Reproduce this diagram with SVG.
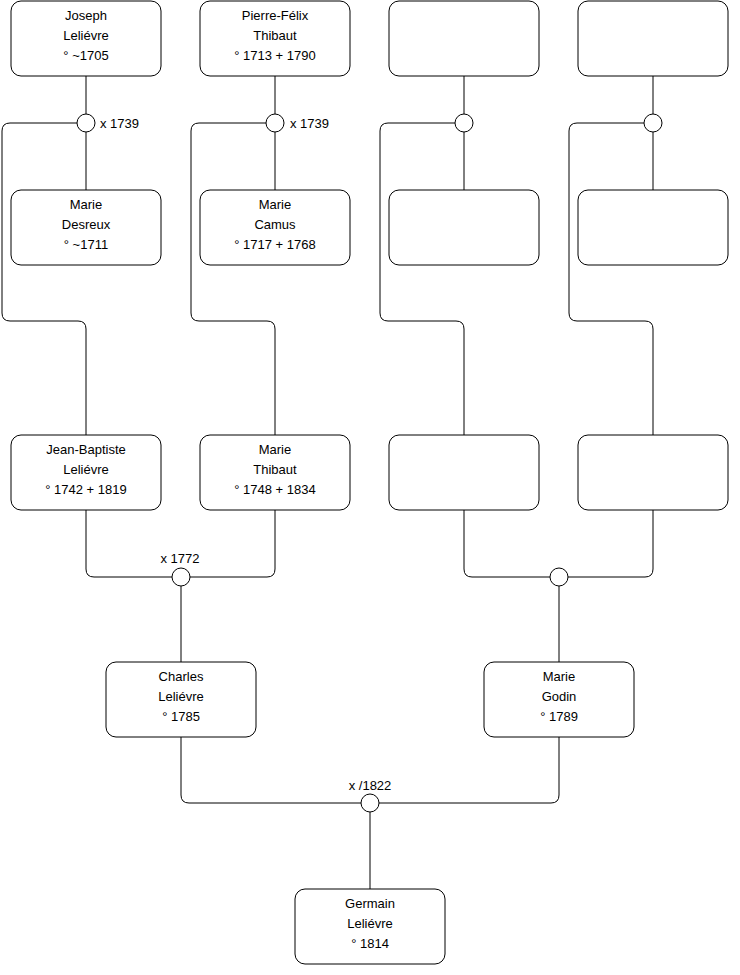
<svg xmlns="http://www.w3.org/2000/svg" width="740" height="975" viewBox="0 0 740 975">
<style>
.box{fill:#fff;stroke:#000;stroke-width:1}
.c{fill:#fff;stroke:#000;stroke-width:1}
.ln{fill:none;stroke:#000;stroke-width:1}
text{font-family:"Liberation Sans",Arial,sans-serif;font-size:13px;fill:#000}
.m{text-anchor:middle}
</style>
<rect width="740" height="975" fill="#fff"/>
<g id="connectors">
<path class="ln" d="M86,76V114M86,132V190M77,123H10Q2,123 2,131V313Q2,321 10,321H78Q86,321 86,329V435"/>
<path class="ln" d="M275,76V114M275,132V190M266,123H199Q191,123 191,131V313Q191,321 199,321H267Q275,321 275,329V435"/>
<path class="ln" d="M464,76V114M464,132V190M455,123H388Q380,123 380,131V313Q380,321 388,321H456Q464,321 464,329V435"/>
<path class="ln" d="M653,76V114M653,132V190M644,123H577Q569,123 569,131V313Q569,321 577,321H645Q653,321 653,329V435"/>
<path class="ln" d="M86,510V569Q86,577 94,577H172M275,510V569Q275,577 267,577H190M181,586V662"/>
<path class="ln" d="M464,510V569Q464,577 472,577H550M653,510V569Q653,577 645,577H568M559,586V662"/>
<path class="ln" d="M181,737V795Q181,803 189,803H361M559,737V795Q559,803 551,803H379M370,812V889"/>
<circle class="c" cx="86" cy="123" r="9"/>
<circle class="c" cx="275" cy="123" r="9"/>
<circle class="c" cx="464" cy="123" r="9"/>
<circle class="c" cx="653" cy="123" r="9"/>
<circle class="c" cx="181" cy="577" r="9"/>
<circle class="c" cx="559" cy="577" r="9"/>
<circle class="c" cx="370" cy="803" r="9"/>
<text x="100" y="128">x 1739</text>
<text x="290" y="128">x 1739</text>
<text class="m" x="180" y="563">x 1772</text>
<text class="m" x="370" y="790">x /1822</text>
</g>
<g id="joseph"><rect class="box" x="11" y="1" width="150" height="75" rx="10"/>
<text class="m" x="86" y="20">Joseph</text><text class="m" x="86" y="40">Leliévre</text><text class="m" x="86" y="60">° ~1705</text></g>
<g id="pierre"><rect class="box" x="200" y="1" width="150" height="75" rx="10"/>
<text class="m" x="275" y="20">Pierre-Félix</text><text class="m" x="275" y="40">Thibaut</text><text class="m" x="275" y="60">° 1713 + 1790</text></g>
<g id="p3"><rect class="box" x="389" y="1" width="150" height="75" rx="10"/></g>
<g id="p4"><rect class="box" x="578" y="1" width="150" height="75" rx="10"/></g>
<g id="desreux"><rect class="box" x="11" y="190" width="150" height="75" rx="10"/>
<text class="m" x="86" y="209">Marie</text><text class="m" x="86" y="229">Desreux</text><text class="m" x="86" y="249">° ~1711</text></g>
<g id="camus"><rect class="box" x="200" y="190" width="150" height="75" rx="10"/>
<text class="m" x="275" y="209">Marie</text><text class="m" x="275" y="229">Camus</text><text class="m" x="275" y="249">° 1717 + 1768</text></g>
<g id="m3"><rect class="box" x="389" y="190" width="150" height="75" rx="10"/></g>
<g id="m4"><rect class="box" x="578" y="190" width="150" height="75" rx="10"/></g>
<g id="jeanbaptiste"><rect class="box" x="11" y="435" width="150" height="75" rx="10"/>
<text class="m" x="86" y="454">Jean-Baptiste</text><text class="m" x="86" y="474">Leliévre</text><text class="m" x="86" y="494">° 1742 + 1819</text></g>
<g id="mariethibaut"><rect class="box" x="200" y="435" width="150" height="75" rx="10"/>
<text class="m" x="275" y="454">Marie</text><text class="m" x="275" y="474">Thibaut</text><text class="m" x="275" y="494">° 1748 + 1834</text></g>
<g id="c3"><rect class="box" x="389" y="435" width="150" height="75" rx="10"/></g>
<g id="c4"><rect class="box" x="578" y="435" width="150" height="75" rx="10"/></g>
<g id="charles"><rect class="box" x="106" y="662" width="150" height="75" rx="10"/>
<text class="m" x="181" y="681">Charles</text><text class="m" x="181" y="701">Leliévre</text><text class="m" x="181" y="721">° 1785</text></g>
<g id="godin"><rect class="box" x="484" y="662" width="150" height="75" rx="10"/>
<text class="m" x="559" y="681">Marie</text><text class="m" x="559" y="701">Godin</text><text class="m" x="559" y="721">° 1789</text></g>
<g id="germain"><rect class="box" x="295" y="889" width="150" height="75" rx="10"/>
<text class="m" x="370" y="908">Germain</text><text class="m" x="370" y="928">Leliévre</text><text class="m" x="370" y="948">° 1814</text></g>
</svg>
